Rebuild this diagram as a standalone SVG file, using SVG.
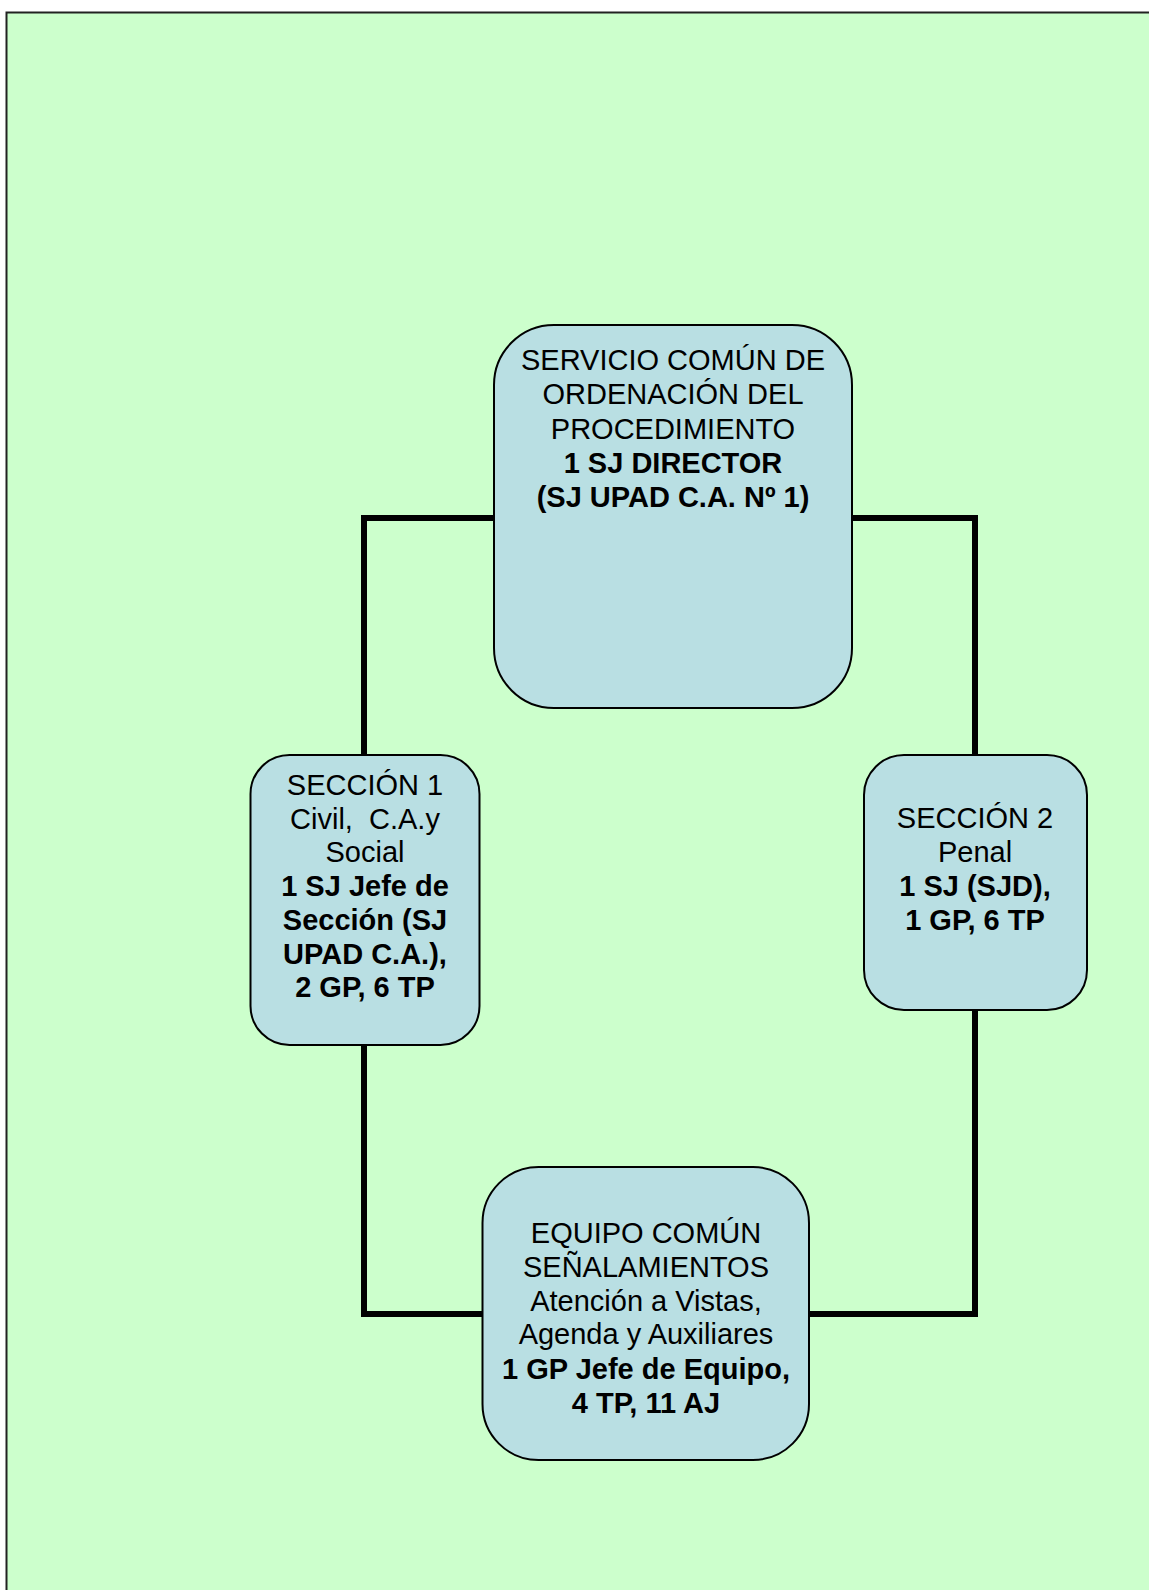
<svg xmlns="http://www.w3.org/2000/svg" width="1149" height="1590" viewBox="0 0 1149 1590">
<style>
.node{fill:#B9DFE3;stroke:#000;stroke-width:2}
.conn{fill:none;stroke:#000;stroke-width:6;stroke-linejoin:miter;stroke-linecap:butt}
text{font-family:"Liberation Sans",Arial,sans-serif;font-size:29px;fill:#000;text-anchor:middle}
.b{font-weight:bold}
</style>
<rect x="0" y="0" width="1149" height="1590" fill="#FFFFFF"/>
<rect id="page" x="6.5" y="12.5" width="1160" height="1600" fill="#CCFFCC" stroke="#222" stroke-width="2"/>
<g id="connectors">
<path class="conn" d="M494 518 H364 V755"/>
<path class="conn" d="M852 518 H975 V755"/>
<path class="conn" d="M364 1045 V1314 H483"/>
<path class="conn" d="M975 1009 V1314 H809"/>
</g>
<g id="servicio">
<rect class="node" x="494" y="325" width="358" height="383" rx="60" ry="60"/>
<text x="673" y="370">SERVICIO COMÚN DE</text>
<text x="673" y="404">ORDENACIÓN DEL</text>
<text x="673" y="438.5">PROCEDIMIENTO</text>
<text x="673" y="473" class="b">1 SJ DIRECTOR</text>
<text x="673" y="507" class="b">(SJ UPAD C.A. Nº 1)</text>
</g>
<g id="seccion1">
<rect class="node" x="250.5" y="755" width="229" height="290" rx="39" ry="39"/>
<text x="365" y="795">SECCIÓN 1</text>
<text x="365" y="828.7" xml:space="preserve">Civil,  C.A.y</text>
<text x="365" y="862.4">Social</text>
<text x="365" y="896" class="b">1 SJ Jefe de</text>
<text x="365" y="929.8" class="b">Sección (SJ</text>
<text x="365" y="963.5" class="b">UPAD C.A.),</text>
<text x="365" y="997" class="b">2 GP, 6 TP</text>
</g>
<g id="seccion2">
<rect class="node" x="864" y="755" width="223" height="255" rx="40" ry="40"/>
<text x="975" y="828">SECCIÓN 2</text>
<text x="975" y="861.5">Penal</text>
<text x="975" y="896" class="b">1 SJ (SJD),</text>
<text x="975" y="929.5" class="b">1 GP, 6 TP</text>
</g>
<g id="equipo">
<rect class="node" x="482.5" y="1167" width="326.5" height="293" rx="56" ry="56"/>
<text x="646" y="1243">EQUIPO COMÚN</text>
<text x="646" y="1276.5">SEÑALAMIENTOS</text>
<text x="646" y="1310.5">Atención a Vistas,</text>
<text x="646" y="1344">Agenda y Auxiliares</text>
<text x="646" y="1378.5" class="b">1 GP Jefe de Equipo,</text>
<text x="646" y="1412.5" class="b">4 TP, 11 AJ</text>
</g>
</svg>
